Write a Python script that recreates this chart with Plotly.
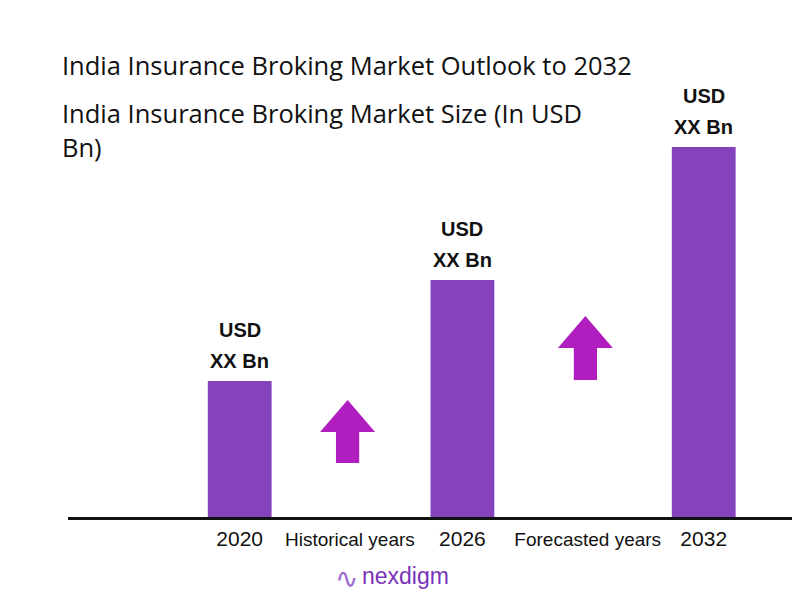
import plotly.graph_objects as go

# categories along the baseline
categories = ["2020", "Historical years", "2026", "Forecasted years", "2032"]
cat_pos = [0, 0.95, 1.92, 3.0, 4.0]
cat_size = [21, 19, 21, 19, 21]

# market size bars (placeholder values)
bar_years = ["2020", "2026", "2032"]
bar_values = [13.6, 23.7, 37.0]
bar_label_top = ["USD", "USD", "USD"]
bar_label_bottom = ["XX Bn", "XX Bn", "XX Bn"]

# growth arrows between the bars
arrow_at = ["Historical years", "Forecasted years"]
arrow_base = [5.4, 13.7]
arrow_tip = [11.7, 20.1]

BAR_COLOR = "#8442BC"
ARROW_COLOR = "#B11EBF"
FONT = "Open Sans"

# page has an 8px body margin, so the figure is drawn 8px in from the corner
OFF = 8
W, H = 800 - OFF, 600 - OFF
ML, MR, MT, MB = 68 - OFF, 0, 80 - OFF, 600 - 517
plot_h = H - MT - MB
plot_w = W - ML - MR


def px_to_paper(px, py):
    # px, py are page pixels
    return (px - OFF - ML) / plot_w, (H - MB - (py - OFF)) / plot_h


pos = dict(zip(categories, cat_pos))

fig = go.Figure()

fig.add_trace(go.Bar(
    x=[pos[y] for y in bar_years],
    y=bar_values,
    width=0.55,
    marker=dict(color=BAR_COLOR, line=dict(width=0)),
    hoverinfo="skip",
))

# arrows as filled polygons in data space
head_half, shaft_half, head_h = 0.237, 0.1, 3.2
for name, b, t in zip(arrow_at, arrow_base, arrow_tip):
    c = pos[name] - 0.02
    hb = t - head_h
    xs = [c - shaft_half, c - shaft_half, c - head_half, c, c + head_half,
          c + shaft_half, c + shaft_half, c - shaft_half]
    ys = [b, hb, hb, t, hb, hb, b, b]
    fig.add_trace(go.Scatter(
        x=xs, y=ys, mode="lines", fill="toself",
        fillcolor=ARROW_COLOR, line=dict(color=ARROW_COLOR, width=0),
        hoverinfo="skip",
    ))

annotations = []
lab_font = dict(family="Liberation Sans", size=20, color="#111")
for yr, v, top, bot in zip(bar_years, bar_values, bar_label_top, bar_label_bottom):
    annotations.append(dict(x=pos[yr], y=v, text=f"<b>{bot}</b>", showarrow=False,
                            yanchor="bottom", yshift=7, font=lab_font))
    annotations.append(dict(x=pos[yr], y=v, text=f"<b>{top}</b>", showarrow=False,
                            yanchor="bottom", yshift=38, font=lab_font))

titles = [
    ("India Insurance Broking Market Outlook to 2032", 65),
    ("India Insurance Broking Market Size (In USD", 113),
    ("Bn)", 147),
]
for txt, py in titles:
    xp, yp = px_to_paper(60, py)
    annotations.append(dict(xref="paper", yref="paper", x=xp, y=yp, text=txt,
                            showarrow=False, xanchor="left", yanchor="middle",
                            font=dict(family=FONT, size=25.5, color="#111")))

# logo
xp, yp = px_to_paper(346, 578)
annotations.append(dict(xref="paper", yref="paper", x=xp, y=yp, text="∿",
                        showarrow=False, xanchor="center", yanchor="middle",
                        font=dict(family="DejaVu Sans", size=28, color="#9B6AD0")))
xp, yp = px_to_paper(360, 576)
annotations.append(dict(xref="paper", yref="paper", x=xp, y=yp, text="nexdigm",
                        showarrow=False, xanchor="left", yanchor="middle",
                        font=dict(family="Liberation Sans", size=23, color="#7A32B8")))

ticktext = [f"<span style='font-size:{s}px'>{c}</span>" for c, s in zip(categories, cat_size)]

fig.update_layout(
    width=W, height=H,
    margin=dict(l=ML, r=MR, t=MT, b=MB),
    paper_bgcolor="white", plot_bgcolor="white",
    showlegend=False,
    annotations=annotations,
    xaxis=dict(
        range=[-1.48, 4.83],
        tickvals=cat_pos, ticktext=ticktext,
        showline=True, linecolor="#111", linewidth=3,
        showgrid=False, zeroline=False, ticks="",
        ticklabelstandoff=2,
        tickfont=dict(family="Liberation Sans", size=20, color="#111"),
        fixedrange=True,
    ),
    yaxis=dict(
        range=[0, plot_h / 10],
        visible=False, showgrid=False, zeroline=False, fixedrange=True,
    ),
)

fig.write_html("out.html")
